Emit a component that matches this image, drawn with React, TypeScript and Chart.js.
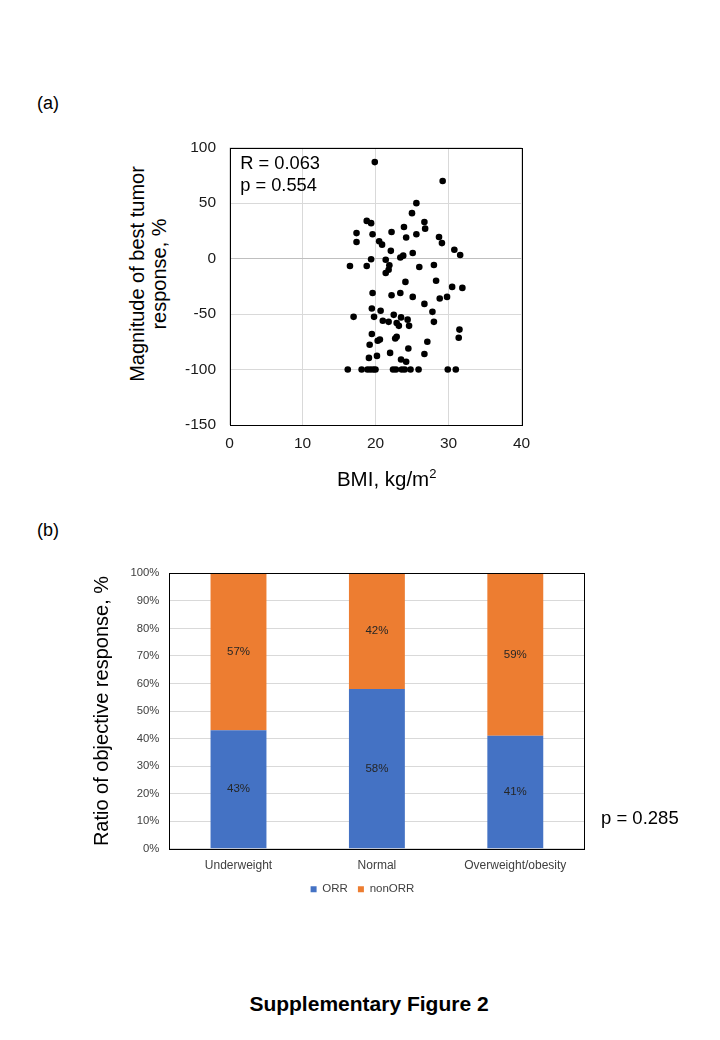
import { useEffect, useRef } from "react";
import { Chart, registerables } from "chart.js";

Chart.register(...registerables);

const FONT = "'Liberation Sans', Arial, sans-serif";
Chart.defaults.font.family = FONT;

// (a) BMI vs magnitude of best tumor response
const bmi = [
  19.9, 29.2, 25.6, 25.0, 18.8, 19.4, 17.4, 17.4, 19.6, 20.5, 20.9, 22.2, 23.9, 24.2,
  25.6, 26.7, 26.8, 28.7, 29.1, 30.8, 31.6, 22.1, 25.1, 23.4, 23.8, 19.4, 21.4,
  16.5, 18.8, 21.9, 21.4, 21.8, 26.0, 28.0, 24.1, 28.3, 19.6, 22.2, 23.4, 25.1, 30.5,
  31.9, 29.8, 28.8, 26.7, 27.8, 19.5, 20.7, 17.0, 19.8, 22.5, 23.5, 24.4, 21.0, 21.8,
  22.9, 23.2, 24.6, 28.0, 31.5, 31.4, 19.5, 22.7, 22.9, 20.3, 20.6, 19.2, 27.1, 24.5,
  22.0, 20.2, 19.1, 26.7, 23.5, 24.2,
  16.2, 18.1, 18.9, 19.3, 19.7, 20.0, 22.4, 22.8, 23.6, 24.0, 24.8, 25.9, 29.9, 31.0,
];
const response = [
  87, 70, 50, 41, 34, 32, 23, 15, 22, 15.6, 12.6, 24, 28.5, 19,
  22, 33, 27, 19.5, 14, 8, 3.3, 7, 5, 1, 2.7, -0.6, -1,
  -6.6, -6.6, -6, -13, -10, -7.5, -5.7, -21, -20, -31, -33, -31, -34.5, -25.5,
  -26.4, -34.5, -36, -40.8, -48, -45, -47, -52.5, -52.5, -50.7, -53, -55, -56, -57,
  -58, -60.6, -60.6, -57, -64, -71.4, -68, -72, -70.5, -74, -73, -77.7, -75, -81,
  -85, -87.7, -89.5, -86, -91, -93,
  -100, -100, -100, -100, -100, -100, -100, -100, -100, -100, -100, -100, -100, -100,
];

// (b) ratio of objective response by BMI group
const groups = ["Underweight", "Normal", "Overweight/obesity"];
const orr = [43, 58, 41];
const nonOrr = [57, 42, 59];

// black plot-area border like the Excel original
const frame = {
  id: "frame",
  afterDraw(chart: any) {
    const { ctx, chartArea: a } = chart;
    ctx.save();
    ctx.strokeStyle = "#000";
    ctx.lineWidth = 1;
    ctx.strokeRect(
      Math.round(a.left) + 0.5,
      Math.round(a.top) + 0.5,
      Math.round(a.right - a.left),
      Math.round(a.bottom - a.top)
    );
    ctx.restore();
  },
};

const barLabels = {
  id: "barLabels",
  afterDatasetsDraw(chart: any) {
    const { ctx } = chart;
    ctx.save();
    ctx.font = `11.5px ${FONT}`;
    ctx.fillStyle = "#262626";
    ctx.textAlign = "center";
    ctx.textBaseline = "middle";
    chart.data.datasets.forEach((ds: any, di: number) => {
      chart.getDatasetMeta(di).data.forEach((el: any, i: number) => {
        const { x, y, base } = el.getProps(["x", "y", "base"], true);
        ctx.fillText(`${ds.data[i]}%`, x, (y + base) / 2);
      });
    });
    ctx.restore();
  },
};

function Text(props: { x: number; y: number; size: number; bold?: boolean; center?: boolean; children: any }) {
  const { x, y, size, bold, center, children } = props;
  return (
    <div
      style={{
        position: "absolute",
        left: x,
        top: y - 0.8465 * size,
        fontSize: size,
        lineHeight: `${size}px`,
        fontWeight: bold ? 700 : 400,
        whiteSpace: "nowrap",
        transform: center ? "translateX(-50%)" : undefined,
      }}
    >
      {children}
    </div>
  );
}

export default function App() {
  const scatterRef = useRef<HTMLCanvasElement | null>(null);
  const barRef = useRef<HTMLCanvasElement | null>(null);

  useEffect(() => {
    const charts: Chart[] = [];

    if (scatterRef.current) {
      charts.push(
        new Chart(scatterRef.current, {
          type: "scatter",
          data: {
            datasets: [
              {
                data: bmi.map((x, i) => ({ x, y: response[i] })),
                backgroundColor: "#000",
                borderWidth: 0,
                pointRadius: 3.3,
              },
            ],
          },
          options: {
            animation: false,
            responsive: false,
            layout: { padding: { top: 17.7, right: 18.5, left: 0, bottom: 0 } },
            plugins: { legend: { display: false }, tooltip: { enabled: false } },
            scales: {
              x: {
                type: "linear",
                min: 0,
                max: 40,
                ticks: { stepSize: 10, font: { size: 15.5 }, color: "#1a1a1a", padding: 9 },
                grid: { color: "#d9d9d9", drawTicks: false },
                border: { display: false },
                afterFit: (s: any) => {
                  s.height = 75;
                },
              },
              y: {
                min: -150,
                max: 100,
                ticks: { stepSize: 50, font: { size: 15.5 }, color: "#1a1a1a", padding: 0 },
                grid: {
                  color: (c: any) => (c.tick && c.tick.value === 0 ? "#bfbfbf" : "#d9d9d9"),
                  tickLength: 13.5,
                  tickColor: "rgba(0,0,0,0)",
                },
                border: { display: false },
                afterFit: (s: any) => {
                  s.width = 59.5;
                },
              },
            },
          },
          plugins: [frame],
        } as any)
      );
    }

    if (barRef.current) {
      charts.push(
        new Chart(barRef.current, {
          type: "bar",
          data: {
            labels: groups,
            datasets: [
              { label: "ORR", data: orr, backgroundColor: "#4472C4", barPercentage: 0.404, categoryPercentage: 1 },
              { label: "nonORR", data: nonOrr, backgroundColor: "#ED7D31", barPercentage: 0.404, categoryPercentage: 1 },
            ],
          },
          options: {
            animation: false,
            responsive: false,
            layout: { padding: { top: 13.3, right: 0, left: 0, bottom: 0 } },
            plugins: {
              legend: {
                position: "bottom",
                labels: { boxWidth: 6, boxHeight: 6, padding: 10, font: { size: 11.5 }, color: "#404040" },
              },
              tooltip: { enabled: false },
            },
            scales: {
              x: {
                stacked: true,
                grid: { display: false, drawTicks: false },
                border: { display: false },
                ticks: { font: { size: 12 }, color: "#404040", padding: 9.5 },
                afterFit: (s: any) => {
                  s.height = 24.7;
                },
              },
              y: {
                stacked: true,
                min: 0,
                max: 100,
                ticks: {
                  stepSize: 10,
                  font: { size: 11.3 },
                  color: "#404040",
                  padding: 0,
                  callback: (v: any) => `${v}%`,
                },
                grid: { color: "#d9d9d9", tickLength: 10, tickColor: "rgba(0,0,0,0)" },
                border: { display: false },
                title: {
                  display: true,
                  text: "Ratio of objective response, %",
                  font: { size: 20 },
                  color: "#000",
                  padding: { top: 5.5, bottom: 0 },
                },
                afterFit: (s: any) => {
                  s.width = 84.3;
                },
              },
              // empty right-hand box so the legend centres where the original does
              yR: {
                position: "right",
                display: true,
                grid: { display: false },
                ticks: { display: false },
                border: { display: false },
                afterFit: (s: any) => {
                  s.width = 55.5;
                },
              },
            },
          },
          plugins: [frame, barLabels],
        } as any)
      );
    }

    return () => {
      charts.forEach((c) => c.destroy());
    };
  }, []);

  return (
    <div
      style={{
        position: "absolute",
        left: 0,
        top: 0,
        width: 720,
        height: 1040,
        background: "#fff",
        fontFamily: FONT,
        color: "#000",
        overflow: "hidden",
      }}
    >
      <Text x={37} y={109.7} size={18}>(a)</Text>
      <Text x={37} y={536.4} size={18}>(b)</Text>

      <canvas
        ref={scatterRef}
        width={370}
        height={370}
        style={{ position: "absolute", left: 170, top: 130 }}
      />
      <Text x={240.2} y={169.2} size={18.3}>R = 0.063</Text>
      <Text x={240.2} y={191.7} size={18.3}>p = 0.554</Text>
      <div
        style={{
          position: "absolute",
          left: 148,
          top: 273.5,
          transform: "translate(-50%, -50%) rotate(-90deg)",
          fontSize: 20,
          lineHeight: "22px",
          textAlign: "center",
          whiteSpace: "nowrap",
        }}
      >
        Magnitude of best tumor
        <br />
        response, %
      </div>
      <Text x={386.7} y={486} size={20.5} center>
        BMI, kg/m
        <span style={{ fontSize: 13, position: "relative", top: -8 }}>2</span>
      </Text>

      <canvas
        ref={barRef}
        width={555.5}
        height={345}
        style={{ position: "absolute", left: 85, top: 560 }}
      />
      <Text x={601} y={824.9} size={18.5}>p = 0.285</Text>

      <Text x={369} y={1010.5} size={21} bold center>
        Supplementary Figure 2
      </Text>
    </div>
  );
}
